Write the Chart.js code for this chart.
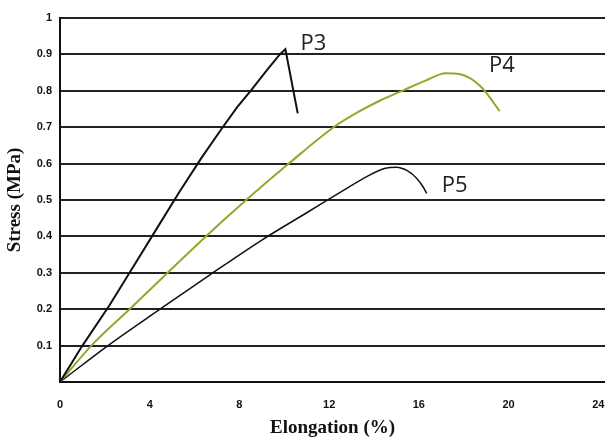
<!DOCTYPE html>
<html>
<head>
<meta charset="utf-8">
<script src="https://cdn.jsdelivr.net/npm/chart.js@4"></script>
<style>
  html, body { margin: 0; padding: 0; background: #fff; }
  #wrap { width: 605px; height: 439px; }
</style>
</head>
<body>
<div id="wrap"><canvas id="stress-chart"></canvas></div>
<script>
// Tick values for both axes
const xTicks = [0, 4, 8, 12, 16, 20, 24];
const yTicks = [0, 0.1, 0.2, 0.3, 0.4, 0.5, 0.6, 0.7, 0.8, 0.9, 1];

// P3 curve
const p3Strain = [0, 1.0, 2.2, 3.3, 4.3, 5.3, 6.3, 7.2, 7.9, 8.5, 9.2, 9.8, 10.05, 10.6];
const p3Stress = [0, 0.1, 0.21, 0.32, 0.42, 0.52, 0.615, 0.695, 0.755, 0.8, 0.855, 0.9, 0.914, 0.738];

// P4 curve
const p4Strain = [0, 1.4, 3.1, 4.8, 6.5, 8.3, 10.2, 12.2, 13.3, 14.3, 15.25, 16.3, 17.2, 17.8, 18.3, 18.7, 19.0, 19.3, 19.6];
const p4Stress = [0, 0.1, 0.2, 0.3, 0.4, 0.5, 0.6, 0.7, 0.742, 0.774, 0.8, 0.828, 0.848, 0.846, 0.834, 0.815, 0.795, 0.77, 0.744];

// P5 curve
const p5Strain = [0, 2.14, 4.46, 6.7, 9.0, 11.0, 12.6, 13.7, 14.5, 15.0, 15.5, 15.9, 16.2, 16.35];
const p5Stress = [0, 0.1, 0.2, 0.295, 0.39, 0.465, 0.525, 0.565, 0.587, 0.59, 0.58, 0.56, 0.535, 0.518];

// Where the curve names sit, in data units
const curveNames = ['P3', 'P4', 'P5'];
const nameStrain = [11.3, 19.7, 17.6];
const nameStress = [0.93, 0.868, 0.538];

function toPoints(xs, ys) {
    return xs.map((x, i) => ({ x: x, y: ys[i] }));
}

// Draw the P3 / P4 / P5 names next to the curves
const curveNamePlugin = {
    id: 'curveNames',
    afterDatasetsDraw(chart) {
        const ctx = chart.ctx;
        const xs = chart.scales.x;
        const ys = chart.scales.y;
        ctx.save();
        ctx.font = '22px "Open Sans"';
        ctx.fillStyle = '#222';
        ctx.textAlign = 'center';
        ctx.textBaseline = 'middle';
        curveNames.forEach((name, i) => {
            ctx.fillText(name, xs.getPixelForValue(nameStrain[i]), ys.getPixelForValue(nameStress[i]));
        });
        ctx.restore();
    }
};

const tickFont = { family: '"Liberation Sans"', size: 11, weight: 'bold' };
const titleFont = { family: '"Liberation Serif"', size: 19, weight: 'bold' };

new Chart(document.getElementById('stress-chart'), {
    type: 'line',
    data: {
        datasets: [
            {
                label: 'P3',
                data: toPoints(p3Strain, p3Stress),
                borderColor: '#111',
                borderWidth: 2,
                tension: 0,
                pointRadius: 0
            },
            {
                label: 'P4',
                data: toPoints(p4Strain, p4Stress),
                borderColor: '#98a52a',
                borderWidth: 2,
                cubicInterpolationMode: 'monotone',
                pointRadius: 0
            },
            {
                label: 'P5',
                data: toPoints(p5Strain, p5Stress),
                borderColor: '#111',
                borderWidth: 1.5,
                cubicInterpolationMode: 'monotone',
                pointRadius: 0
            }
        ]
    },
    options: {
        responsive: true,
        maintainAspectRatio: false,
        animation: false,
        layout: { padding: { top: 18, right: 0, left: 0, bottom: 0 } },
        plugins: {
            legend: { display: false },
            tooltip: { enabled: false }
        },
        scales: {
            x: {
                type: 'linear',
                min: 0,
                max: 24.3,
                afterBuildTicks: axis => { axis.ticks = xTicks.map(v => ({ value: v })); },
                afterFit: axis => { axis.height = 57; axis.paddingRight = 0; },
                grid: { display: false },
                border: { display: true, color: '#111', width: 2 },
                ticks: { color: '#111', font: tickFont, padding: 8, maxRotation: 0 },
                title: {
                    display: true,
                    text: 'Elongation (%)',
                    color: '#111',
                    font: titleFont,
                    padding: { top: 4, bottom: 0 }
                }
            },
            y: {
                min: 0,
                max: 1,
                afterBuildTicks: axis => { axis.ticks = yTicks.map(v => ({ value: v })); },
                afterFit: axis => { axis.width = 60; },
                grid: { color: '#222', lineWidth: 2, drawTicks: false },
                border: { display: true, color: '#111', width: 2 },
                ticks: {
                    color: '#111',
                    font: tickFont,
                    padding: 8,
                    callback: v => (v === 0 ? '' : String(v))
                },
                title: {
                    display: true,
                    text: 'Stress (MPa)',
                    color: '#111',
                    font: titleFont,
                    padding: { top: 4, bottom: 0 }
                }
            }
        }
    },
    plugins: [curveNamePlugin]
});
</script>
</body>
</html>
